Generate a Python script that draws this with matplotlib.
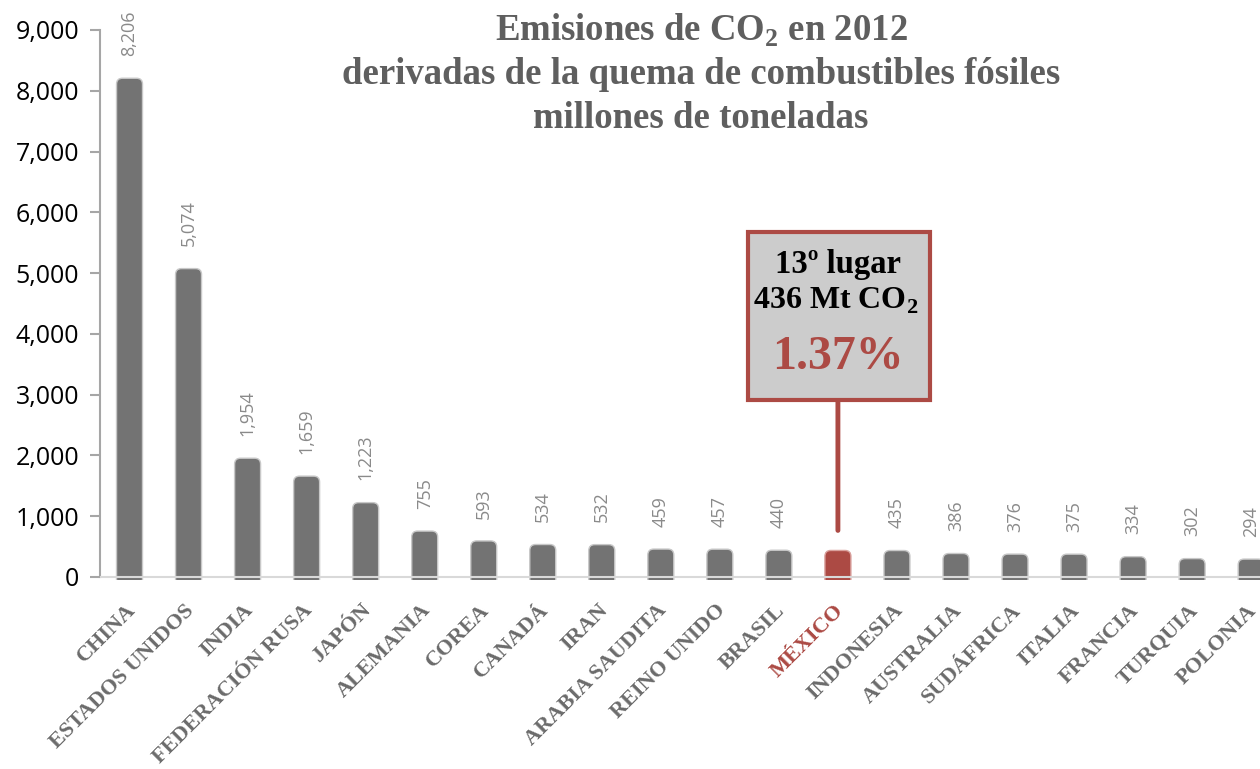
import matplotlib
matplotlib.use("Agg")
import matplotlib.pyplot as plt
from matplotlib.patches import FancyBboxPatch
from matplotlib.ticker import FuncFormatter

countries = ["CHINA", "ESTADOS UNIDOS", "INDIA", "FEDERACIÓN RUSA", "JAPÓN",
             "ALEMANIA", "COREA", "CANADÁ", "IRAN", "ARABIA SAUDITA",
             "REINO UNIDO", "BRASIL", "MÉXICO", "INDONESIA", "AUSTRALIA",
             "SUDÁFRICA", "ITALIA", "FRANCIA", "TURQUIA", "POLONIA"]
values = [8206, 5074, 1954, 1659, 1223, 755, 593, 534, 532, 459,
          457, 440, 436, 435, 386, 376, 375, 334, 302, 294]
show_label = [True] * 20
show_label[12] = False
highlight = "MÉXICO"
yticks = [0, 1000, 2000, 3000, 4000, 5000, 6000, 7000, 8000, 9000]

plt.rcParams['mathtext.fontset'] = 'custom'
plt.rcParams['mathtext.rm'] = 'Liberation Serif'
plt.rcParams['mathtext.bf'] = 'Liberation Serif:bold'

GRAY = "#737373"
RED = "#ac4a44"
W, H = 1260, 769
fig = plt.figure(figsize=(W / 100, H / 100), dpi=100)
ax = fig.add_axes([100 / W, (H - 580) / H, 1 - 100 / W, (580 - 30) / H])

x = list(range(len(countries)))
ax.set_xlim(-0.5, 19.15)
ax.set_ylim(-50, 9000)

bars = ax.bar(x, values, width=0.44)
px_x = (W - 100) / 19.65          # pixels per category
px_y = 550 / 9050                 # pixels per unit
aspect = (1 / px_y) / (1 / px_x)
for i, r in enumerate(bars):
    r.set_visible(False)
    col = RED if countries[i] == highlight else GRAY
    p = FancyBboxPatch((r.get_x(), -400), r.get_width(), r.get_height() + 400,
                       boxstyle="round,pad=0,rounding_size=0.1",
                       mutation_aspect=aspect, facecolor=col,
                       edgecolor="#c8c8c8" if col == GRAY else "#d9a09c",
                       linewidth=1.0, zorder=2, clip_on=True)
    ax.add_patch(p)
    if show_label[i]:
        ax.annotate(f"{values[i]:,}", (x[i], values[i]), xytext=(0, 16),
                    textcoords="offset points", rotation=90, ha="center",
                    va="bottom", fontsize=13, color="#8a8a8a",
                    family="Open Sans")

ax.axhline(0, color="#d9d9d9", lw=1.5, zorder=3)

for s in ["top", "right", "bottom"]:
    ax.spines[s].set_visible(False)
ax.spines["left"].set_color("#a6a6a6")
ax.spines["left"].set_linewidth(1.5)
ax.spines["left"].set_bounds(0, 9000)
ax.set_yticks(yticks)
ax.yaxis.set_major_formatter(FuncFormatter(lambda v, p: f"{int(v):,}"))
ax.tick_params(axis="y", length=7, width=1.5, color="#a6a6a6", labelsize=18,
               pad=8)
for t in ax.get_yticklabels():
    t.set_family("Open Sans")
ax.set_xticks(x)
ax.set_xticklabels([])
ax.tick_params(axis="x", length=0)

for i, c in enumerate(countries):
    ax.annotate(c, (x[i], 0), xytext=(2, -22), textcoords="offset points",
                rotation=45, rotation_mode="anchor", ha="right", va="center",
                fontsize=16, fontweight="bold", family="Liberation Serif",
                color=RED if c == highlight else "#6b6b6b")

title_lines = [r"Emisiones de CO$_\mathbf{2}$ en 2012",
               "derivadas de la quema de combustibles fósiles",
               "millones de toneladas"]
for k, (line, yy) in enumerate(zip(title_lines, [30, 75, 118])):
    fig.text(701 / W, 1 - yy / H, line, ha="center", va="center",
             fontsize=26.5, fontweight="bold", family="Liberation Serif",
             color="#5f5f5f")

# callout for Mexico
mi = countries.index(highlight)
ax.annotate("", xy=(x[mi], 720), xytext=(x[mi], 2920),
            arrowprops=dict(arrowstyle="-", color=RED, lw=3.5), zorder=4)
bx0, by0 = 748, 232
box = FancyBboxPatch((bx0 / W, 1 - 400 / H), (930 - bx0) / W, (400 - by0) / H,
                     boxstyle="square,pad=0", transform=fig.transFigure,
                     facecolor="#cccccc", edgecolor=RED, linewidth=3, zorder=5)
fig.add_artist(box)
fig.text(838 / W, 1 - 265 / H, "13º lugar", ha="center", va="center",
         fontsize=23.5, fontweight="bold", family="Liberation Serif",
         color="black", zorder=6)
fig.text(836 / W, 1 - 301 / H, r"436 Mt CO$_\mathbf{2}$", ha="center",
         va="center", fontsize=23, fontweight="bold",
         family="Liberation Serif", color="black", zorder=6)
fig.text(838 / W, 1 - 357 / H, "1.37%", ha="center", va="center",
         fontsize=34.5, fontweight="bold", family="Liberation Serif",
         color=RED, zorder=6)

fig.savefig("out.png", dpi=100)
